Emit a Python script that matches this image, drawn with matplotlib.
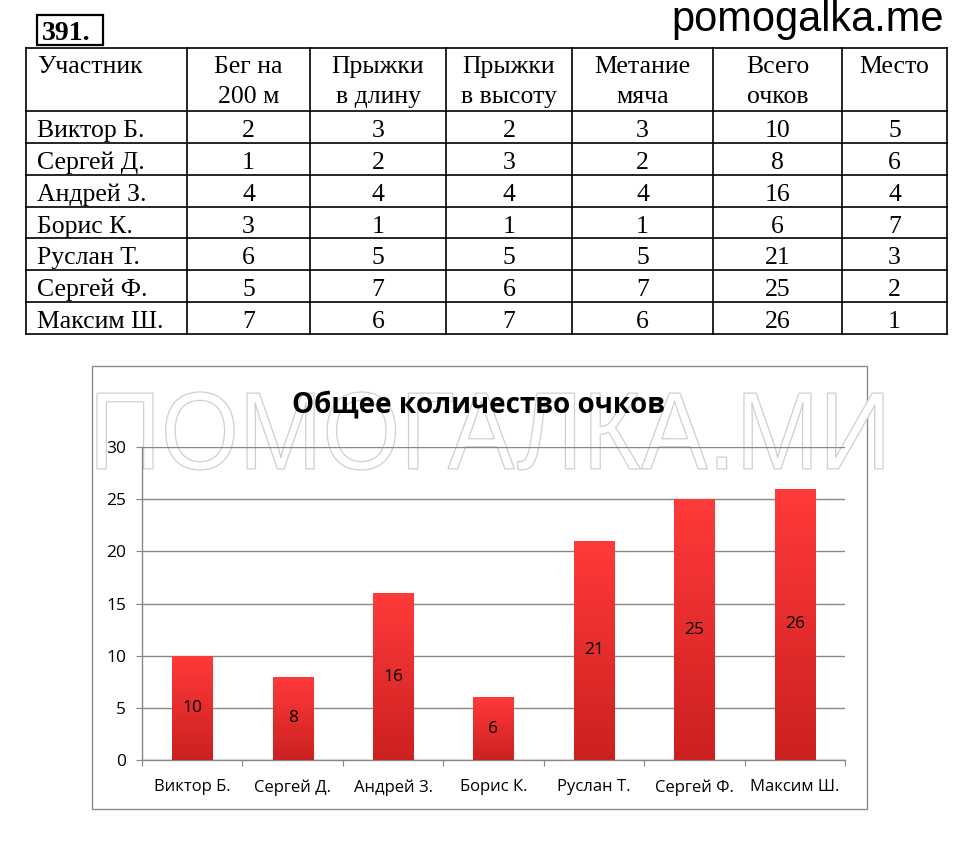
import numpy as np
import matplotlib
matplotlib.use('Agg')
import matplotlib.pyplot as plt
from matplotlib.patches import Rectangle, PathPatch
from matplotlib.textpath import TextPath
from matplotlib.font_manager import FontProperties
from matplotlib.colors import LinearSegmentedColormap
import matplotlib.transforms as mtransforms

# ── Data ───────────────────────────────────────────────────────────────────────
header = ['Участник', 'Бег на\n200 м', 'Прыжки\nв длину', 'Прыжки\nв высоту',
          'Метание\nмяча', 'Всего\nочков', 'Место']
names = ['Виктор Б.', 'Сергей Д.', 'Андрей З.', 'Борис К.',
         'Руслан Т.', 'Сергей Ф.', 'Максим Ш.']
run_200 = [2, 1, 4, 3, 6, 5, 7]
long_jump = [3, 2, 4, 1, 5, 7, 6]
high_jump = [2, 3, 4, 1, 5, 6, 7]
ball_throw = [3, 2, 4, 1, 5, 7, 6]
total = [10, 8, 16, 6, 21, 25, 26]
place = [5, 6, 4, 7, 3, 2, 1]

chart_title = 'Общее количество очков'
y_ticks = [0, 5, 10, 15, 20, 25, 30]

# ── Layout (pixels of the 960x864 picture) ─────────────────────────────────────
W, H = 960, 864
col_x = [26, 187, 310, 446, 572, 713, 842, 947]
row_y = [48, 111, 143, 175, 207, 238, 270, 302, 334]

SERIF = ['Liberation Serif', 'DejaVu Serif']
SANS = ['Open Sans', 'DejaVu Sans']

fig = plt.figure(figsize=(W / 100, H / 100), dpi=100)
fig.patch.set_facecolor('white')

# background overlay in pixel coords (y down)
bg = fig.add_axes([0, 0, 1, 1], zorder=0)
bg.set_xlim(0, W)
bg.set_ylim(H, 0)
bg.axis('off')

# ── Problem number & site name ────────────────────────────────────────────────
bg.add_patch(Rectangle((37, 15), 66, 30, fill=False, edgecolor='black', lw=1.6))
bg.text(42, 40, '391.', family=SERIF, fontsize=20, fontweight='bold', va='baseline')
bg.text(944, 31, 'pomogalka.me', family=['Liberation Sans', 'DejaVu Sans'],
        fontsize=30, ha='right', va='baseline')

# ── Table ─────────────────────────────────────────────────────────────────────
for x in col_x:
    bg.plot([x, x], [row_y[0], row_y[-1]], color='black', lw=1.2)
for y in row_y:
    bg.plot([col_x[0], col_x[-1]], [y, y], color='black', lw=1.2)

TFS = 18.5
for j, h in enumerate(header):
    lines = h.split('\n')
    for k, line in enumerate(lines):
        if j == 0:
            bg.text(37, 73 + 30 * k, line, family=SERIF, fontsize=TFS, va='baseline')
        else:
            cx = (col_x[j] + col_x[j + 1]) / 2
            bg.text(cx, 73 + 30 * k, line, family=SERIF, fontsize=TFS,
                    ha='center', va='baseline')

columns = [run_200, long_jump, high_jump, ball_throw, total, place]
for i, name in enumerate(names):
    base = row_y[i + 1] + 26
    bg.text(37, base, name, family=SERIF, fontsize=TFS, va='baseline')
    for j, col in enumerate(columns):
        cx = (col_x[j + 1] + col_x[j + 2]) / 2
        bg.text(cx, base, str(col[i]), family=SERIF, fontsize=TFS,
                ha='center', va='baseline')

# chart frame
bg.add_patch(Rectangle((92, 366), 775, 443, fill=False, edgecolor='#8c8c8c', lw=1.0))

# ── Watermark (under the chart) ───────────────────────────────────────────────
tp = TextPath((0, 0), 'ПОМОГАЛКА.МИ', size=100,
              prop=FontProperties(family=['Liberation Sans', 'DejaVu Sans']))
bb = tp.get_extents()
sx = (883 - 97) / bb.width
sy = (470 - 392) / bb.height
tr = mtransforms.Affine2D().translate(-bb.x0, -bb.y0).scale(sx, -sy).translate(97, 470)
bg.add_patch(PathPatch(tr.transform_path(tp), facecolor='white',
                       edgecolor='#cfcfcf', lw=0.9))

# ── Chart ─────────────────────────────────────────────────────────────────────
left, right, top, bottom = 142, 845, 447, 760
ax = fig.add_axes([left / W, 1 - bottom / H, (right - left) / W, (bottom - top) / H],
                  zorder=2)
ax.patch.set_alpha(0)

grid_c = '#878787'
x = np.arange(len(names))
bars = ax.bar(x, total, width=0.4, color='#f03030', edgecolor='none', zorder=3)

cmap = LinearSegmentedColormap.from_list('bar', ['#cc2020', '#ff3a3a'])
grad = np.linspace(0, 1, 256).reshape(-1, 1)
for b in bars:
    im = ax.imshow(grad, cmap=cmap, origin='lower', aspect='auto', zorder=4,
                   extent=[b.get_x(), b.get_x() + b.get_width(), 0, b.get_height()])
    im.set_clip_path(b)

for xi, v in zip(x, total):
    ax.text(xi, v / 2, str(v), ha='center', va='center', family=SANS,
            fontsize=12.5, zorder=5)

ax.set_xlim(-0.5, len(names) - 0.5)
ax.set_ylim(0, 30)
ax.set_yticks(y_ticks)
ax.yaxis.grid(True, color=grid_c, lw=1.0, zorder=1)
ax.set_axisbelow(True)

ax.set_xticks(np.arange(len(names) + 1) - 0.5)
ax.set_xticklabels([])
ax.set_xticks(x, minor=True)
ax.set_xticklabels(names, minor=True, family=SANS, fontsize=12)
ax.tick_params(axis='x', which='major', length=4.5, color=grid_c, direction='out')
ax.tick_params(axis='x', which='minor', length=0, pad=14)
ax.tick_params(axis='y', length=4.5, color=grid_c, pad=7, labelsize=12.5)
for lab in ax.get_yticklabels():
    lab.set_family(SANS)

for s in ['top', 'right']:
    ax.spines[s].set_visible(False)
for s in ['left', 'bottom']:
    ax.spines[s].set_color(grid_c)
    ax.spines[s].set_linewidth(1.0)

fig.text(479 / W, 1 - 413 / H, chart_title, family=SANS, fontsize=20,
         fontweight='bold', ha='center', va='baseline', zorder=6)

fig.savefig('out.png', dpi=100, facecolor='white')
